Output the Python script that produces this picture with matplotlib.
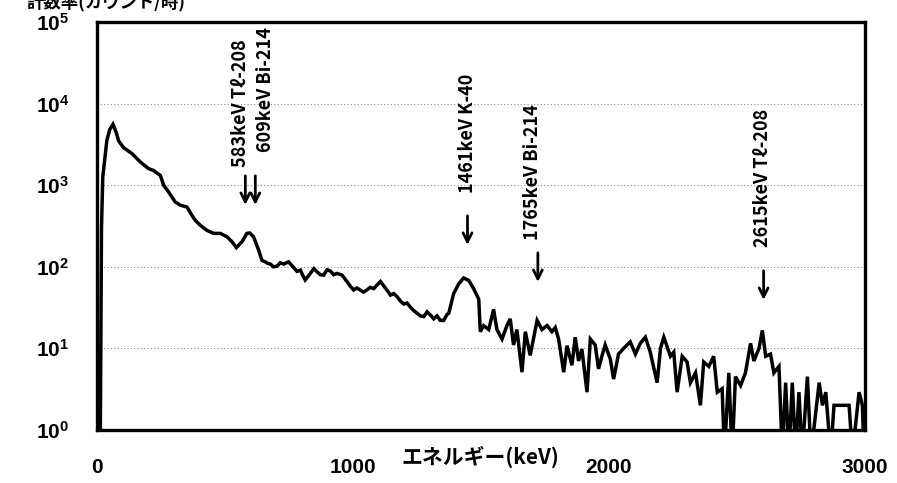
import matplotlib.pyplot as plt
import matplotlib.transforms as mtransforms

plt.rcParams['font.family'] = ['Liberation Sans', 'Noto Sans CJK JP', 'DejaVu Sans']
plt.rcParams['mathtext.fontset'] = 'custom'
plt.rcParams['mathtext.rm'] = 'Liberation Sans'
plt.rcParams['mathtext.bf'] = 'Liberation Sans:bold'

# spectrum (keV, counts per hour)
energy = [13, 18, 23, 30, 39, 50, 63, 75, 85, 104, 137, 169, 202, 221, 248, 261,
          280, 306, 326, 352, 371, 384, 404, 430, 456, 482, 508, 528, 545, 567,
          586, 597, 612, 632, 645, 658, 668, 678, 690, 704, 716, 730, 749, 769,
          782, 795, 805, 814, 834, 848, 860, 873, 886, 899, 912, 925, 938, 958,
          977, 990, 1003, 1016, 1029, 1042, 1055, 1068, 1082, 1095, 1108, 1127,
          1137, 1147, 1160, 1173, 1186, 1199, 1212, 1225, 1238, 1251, 1264, 1277,
          1290, 1303, 1316, 1329, 1342, 1355, 1368, 1375, 1394, 1414, 1433, 1453,
          1472, 1492, 1498, 1511, 1531, 1550, 1563, 1583, 1602, 1615, 1628, 1641,
          1661, 1674, 1693, 1720, 1739, 1759, 1778, 1791, 1804, 1824, 1837, 1856,
          1869, 1882, 1895, 1915, 1928, 1947, 1960, 1973, 1986, 2006, 2019, 2038,
          2058, 2084, 2104, 2123, 2143, 2162, 2189, 2202, 2215, 2241, 2254, 2267,
          2287, 2306, 2319, 2339, 2358, 2371, 2391, 2410, 2424, 2443, 2452, 2469,
          2482, 2495, 2515, 2534, 2554, 2567, 2587, 2600, 2613, 2632, 2645, 2665,
          2678, 2691, 2704, 2717, 2730, 2743, 2756, 2776, 2790, 2822, 2835, 2848,
          2867, 2880, 2900, 2920, 2939, 2952, 2978, 2991, 2997]
counts = [0.5, 300, 1260, 2000, 3550, 4800, 5600, 4500, 3500, 2900, 2450, 1940,
          1600, 1520, 1320, 1000, 830, 625, 570, 540, 430, 373, 323, 280, 257,
          257, 234, 203, 172, 203, 257, 260, 234, 160, 120, 115, 110, 108, 100,
          102, 112, 108, 115, 98, 88, 91, 78, 69, 83, 95, 87, 80, 79, 92, 89, 80,
          83, 79, 66, 58, 52, 55, 52, 49, 52, 56, 54, 60, 66, 55, 50, 45, 47, 43,
          38, 35, 36, 32, 29, 27, 25, 24.5, 28, 25.7, 23, 25, 22, 22, 26, 27, 47,
          62, 73, 68, 54, 40, 16, 19, 17, 30, 17, 13, 19, 23, 11, 17, 5.1, 16,
          8.2, 22, 17, 19, 16, 18, 13, 5.1, 10.8, 6.2, 13.7, 7, 9.8, 2.9, 13, 11,
          5.6, 8, 11, 7.4, 4.2, 8.5, 10, 12, 8.5, 11.5, 13.7, 9, 3.8, 10, 13.7,
          8, 9, 2.9, 8, 6.8, 3.8, 5, 2.0, 6.8, 6, 8, 2.9, 3.2, 0.5, 5, 0.5, 4.5,
          3.5, 5, 11.5, 7, 10, 16.6, 8, 8.5, 5, 6, 0.5, 3.8, 0.5, 3.8, 0.5, 2.9,
          0.5, 4.5, 0.5, 3.8, 2, 2.9, 0.5, 2, 2, 2, 2, 0.5, 2.9, 2, 0.5]

# peak markers
peak_labels = ['583keV Tℓ-208', '609keV Bi-214', '1461keV K-40',
               '1765keV Bi-214', '2615keV Tℓ-208']
arrow_energy = [580, 619, 1448, 1723, 2605]
label_energy = [560, 658, 1448, 1701, 2601]

fig = plt.figure(figsize=(8.97, 4.83), dpi=100)
ax = fig.add_axes([0.108, 0.110, 0.856, 0.844])

ax.plot(energy, counts, color='black', lw=2.5, solid_joinstyle='miter')
ax.set_yscale('log')
ax.set_ylim(1, 1e5)
ax.set_xlim(0, 3000)

ax.yaxis.grid(True, which='major', linestyle=(0, (1, 2)), color='0.55', lw=0.8)
ax.yaxis.grid(False, which='minor')
ax.minorticks_off()
for s in ax.spines.values():
    s.set_linewidth(2.4)

ax.set_xticks([0, 1000, 2000, 3000])
ax.set_xticklabels(['0', '1000', '2000', '3000'], fontsize=15, fontweight='bold')
ax.set_yticks([1, 10, 100, 1000, 1e4, 1e5])
ax.set_yticklabels([r'$\mathbf{10^{%d}}$' % i for i in range(6)], fontsize=15)
ax.tick_params(axis='x', length=0, pad=20)
ax.tick_params(axis='y', length=0, pad=20)

ax.text(0.5, -0.067, 'エネルギー(keV)', transform=ax.transAxes, ha='center',
        va='center', fontsize=15, fontweight='bold', family=['Noto Sans CJK JP'])
fig.text(0.03, 1 - 11 / 483, '計数率(カウント/時)', ha='left', va='bottom',
         fontsize=12.5, fontweight='bold', family=['Noto Sans CJK JP'])

trans = mtransforms.blended_transform_factory(ax.transData, ax.transAxes)
text_bottom = [0.645, 0.681, 0.581, 0.466, 0.449]
arrow_top = [0.630, 0.630, 0.532, 0.441, 0.397]
arrow_len = 0.085
for lab, ae, le, tb, at in zip(peak_labels, arrow_energy, label_energy,
                               text_bottom, arrow_top):
    ax.text(le, tb, lab, transform=trans, rotation=90, ha='center', va='bottom',
            fontsize=13, fontweight='bold',
            family=['Noto Sans CJK JP', 'DejaVu Sans'])
    ax.annotate('', xy=(ae, at - arrow_len), xytext=(ae, at),
                xycoords=trans, textcoords=trans,
                arrowprops=dict(arrowstyle='->', lw=2.0, color='black',
                                mutation_scale=16))

fig.savefig('out.png', dpi=100)
